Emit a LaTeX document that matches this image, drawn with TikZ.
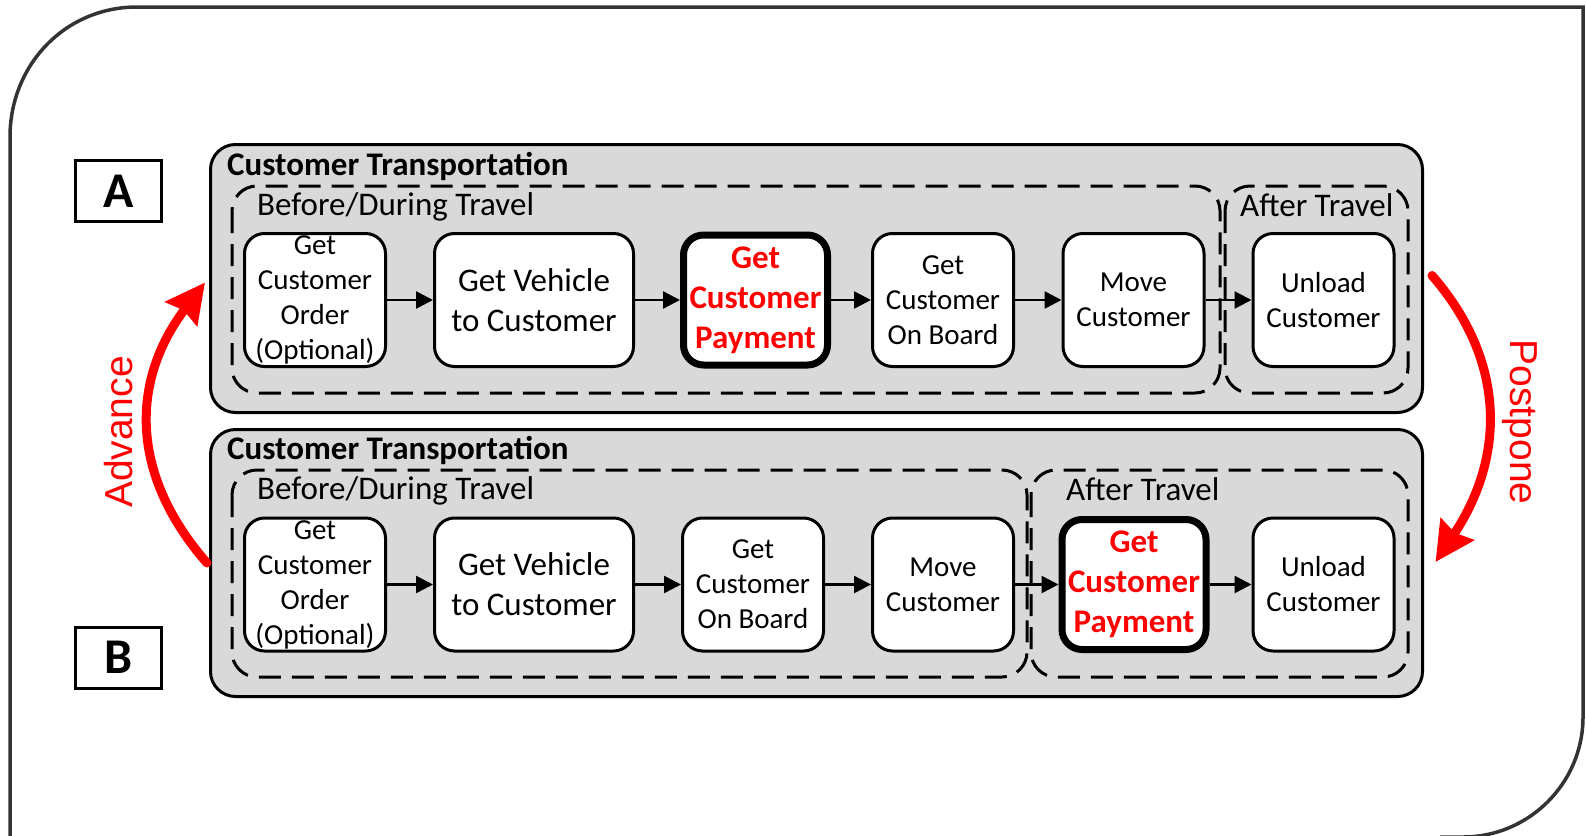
\documentclass[tikz,border=0pt]{standalone}
\usepackage{fontspec}
\setmainfont{Carlito}
\newfontfamily\arialfont{Liberation Sans}
\usetikzlibrary{arrows.meta}
\definecolor{panelgray}{HTML}{D9D9D9}
\definecolor{framegray}{HTML}{333333}
\definecolor{hired}{HTML}{FF0000}
\begin{document}
\begin{tikzpicture}[x=1pt,y=-1pt,
  proc/.style={draw, line width=3pt, fill=white, rounded corners=20pt, align=center,
    inner sep=0pt, minimum width=141pt, minimum height=133pt,
    font=\fontsize{29}{35}\selectfont},
  procwide/.style={proc, minimum width=199pt, font=\fontsize{33}{40}\selectfont},
  procpay/.style={proc, line width=7pt, minimum width=144pt, minimum height=130pt,
    text=hired, font=\fontsize{33}{40}\selectfont\bfseries},
  panel/.style={draw, line width=3pt, fill=panelgray, rounded corners=25pt,
    inner sep=0pt, minimum width=1212pt},
  groupbox/.style={draw, line width=3pt, rounded corners=25pt, dash pattern=on 22pt off 11pt},
  ptitle/.style={anchor=base west, inner sep=0pt, font=\fontsize{33}{40}\selectfont\bfseries},
  gtitle/.style={anchor=base west, inner sep=0pt, font=\fontsize{33}{40}\selectfont},
  letterbox/.style={draw, line width=3pt, fill=white, inner sep=0pt, minimum width=86pt,
    minimum height=61pt, font=\fontsize{50}{60}\selectfont\bfseries},
  flow/.style={line width=2.5pt, -{Triangle[length=17pt,width=17pt]}},
  bigarrow/.style={draw=hired, line width=9pt, line cap=round,
    -{Stealth[length=39pt,width=39pt,inset=4pt]}},
  sidelabel/.style={text=hired, inner sep=0pt, font=\arialfont\fontsize{39}{46}\selectfont}
]
\useasboundingbox (0,0) rectangle (1586,835);

% outer frame
\draw[line width=3.5pt, draw=framegray]
  (10,845) -- (10,137) .. controls (10,65) and (65,7) .. (137,7)
  -- (1583,7) -- (1583,717) .. controls (1583,783) and (1529,837) .. (1463,837)
  -- (1440,837);

% panels
\node[panel, minimum height=268pt] (pA) at (816.5,278.5) {};
\node[panel, minimum height=267pt] (pB) at (816.5,563) {};

% dashed groups
\draw[groupbox] (232,186) rectangle (1220,393);
\draw[groupbox] (1225,186) rectangle (1408,393);
\draw[groupbox] (232,470) rectangle (1027,677);
\draw[groupbox] (1031,470) rectangle (1408,677);

% titles
\node[ptitle] (tA) at (227,175) {Customer Transportation};
\node[ptitle] (tB) at (227,459.5) {Customer Transportation};
\node[gtitle] (bdA) at (257,215) {Before/During Travel};
\node[gtitle] (atA) at (1240,216) {After Travel};
\node[gtitle] (bdB) at (257,499.5) {Before/During Travel};
\node[gtitle] (atB) at (1066,500) {After Travel};

% row A
\node[proc] (a1) at (315,300) {Get\\Customer\\Order\\(Optional)};
\node[procwide] (a2) at (534,300) {Get Vehicle\\to Customer};
\node[procpay] (a3) at (755.5,300) {Get\\Customer\\Payment};
\node[proc] (a4) at (943,300) {Get\\Customer\\On Board};
\node[proc] (a5) at (1133.5,300) {Move\\Customer};
\node[proc] (a6) at (1323.5,300) {Unload\\Customer};

% row B
\node[proc] (b1) at (315,584.5) {Get\\Customer\\Order\\(Optional)};
\node[procwide] (b2) at (534,584.5) {Get Vehicle\\to Customer};
\node[proc] (b3) at (753,584.5) {Get\\Customer\\On Board};
\node[proc] (b4) at (943,584.5) {Move\\Customer};
\node[procpay] (b5) at (1134,584.5) {Get\\Customer\\Payment};
\node[proc] (b6) at (1323.5,584.5) {Unload\\Customer};

% flow arrows
\draw[flow] (a1) -- (a2);
\draw[flow] (a2) -- (a3);
\draw[flow] (a3) -- (a4);
\draw[flow] (a4) -- (a5);
\draw[flow] (a5) -- (a6);
\draw[flow] (b1) -- (b2);
\draw[flow] (b2) -- (b3);
\draw[flow] (b3) -- (b4);
\draw[flow] (b4) -- (b5);
\draw[flow] (b5) -- (b6);

% letter boxes
\node[letterbox] (lA) at (118.5,191) {A};
\node[letterbox] (lB) at (118.5,657.5) {B};

% advance / postpone
\draw[bigarrow] ([xshift=-2pt]pB.west) .. controls +(-77,-88) and +(-75,99) .. ([shift={(-4,4)}]pA.west);
\draw[bigarrow] ([shift={(8,-3)}]pA.east) .. controls +(73,84) and +(71,-107) .. ([shift={(11.5,-1)}]pB.east);
\node[sidelabel, rotate=90] (adv) at (119,432) {Advance};
\node[sidelabel, rotate=-90] (post) at (1520,422) {Postpone};
\end{tikzpicture}
\end{document}
